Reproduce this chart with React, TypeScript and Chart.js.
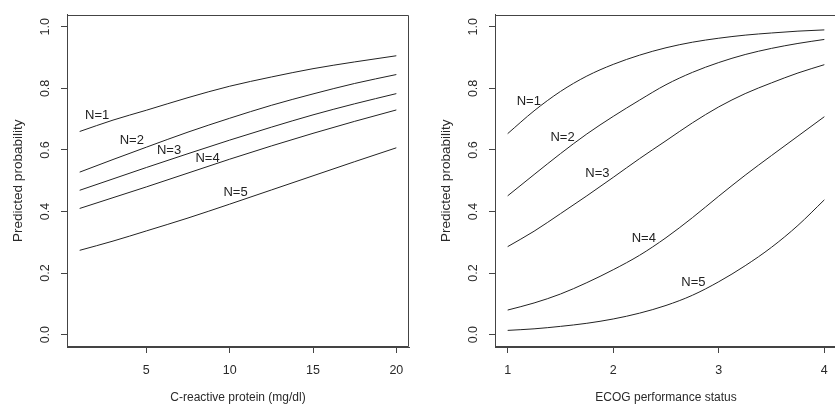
import React, { useEffect, useRef } from "react";
import { Chart, registerables } from "chart.js";

Chart.register(...registerables);

// ---- Data ----
const seriesNames = ["N=1", "N=2", "N=3", "N=4", "N=5"];

// Left panel: C-reactive protein (mg/dl)
const crpX = [1, 3, 5, 7.5, 10, 12.5, 15, 17.5, 20];
const crpN1 = [0.66, 0.697, 0.729, 0.77, 0.807, 0.837, 0.864, 0.886, 0.906];
const crpN2 = [0.528, 0.569, 0.609, 0.658, 0.703, 0.745, 0.782, 0.816, 0.845];
const crpN3 = [0.469, 0.506, 0.543, 0.588, 0.632, 0.674, 0.714, 0.75, 0.783];
const crpN4 = [0.41, 0.445, 0.48, 0.525, 0.57, 0.613, 0.654, 0.693, 0.73];
const crpN5 = [0.274, 0.304, 0.337, 0.379, 0.424, 0.47, 0.516, 0.562, 0.607];
const crpLabelX = [2.05, 4.13, 6.36, 8.67, 10.35];
const crpLabelY = [0.711, 0.632, 0.598, 0.573, 0.461];
const crpTicks = [5, 10, 15, 20];

// Right panel: ECOG performance status
const ecogX = [1, 1.25, 1.5, 1.75, 2, 2.25, 2.5, 2.75, 3, 3.25, 3.5, 3.75, 4];
const ecogN1 = [0.653, 0.727, 0.79, 0.84, 0.878, 0.908, 0.932, 0.95, 0.963, 0.973, 0.98, 0.986, 0.99];
const ecogN2 = [0.451, 0.52, 0.588, 0.652, 0.709, 0.762, 0.812, 0.852, 0.884, 0.91, 0.93, 0.946, 0.959];
const ecogN3 = [0.286, 0.336, 0.393, 0.451, 0.511, 0.572, 0.63, 0.688, 0.74, 0.783, 0.818, 0.85, 0.877];
const ecogN4 = [0.08, 0.103, 0.132, 0.169, 0.211, 0.258, 0.315, 0.38, 0.45, 0.518, 0.582, 0.645, 0.708];
const ecogN5 = [0.014, 0.019, 0.027, 0.037, 0.051, 0.07, 0.095, 0.128, 0.172, 0.224, 0.284, 0.355, 0.438];
const ecogLabelX = [1.2, 1.52, 1.85, 2.29, 2.76];
const ecogLabelY = [0.759, 0.642, 0.523, 0.314, 0.171];
const ecogTicks = [1, 2, 3, 4];

const yTicks = [0, 0.2, 0.4, 0.6, 0.8, 1.0];

const FONT = "'Liberation Sans', Arial, Helvetica, sans-serif";
const LINE = "#222222";
const AXIS = "#444444";
const TEXT = "#2a2a2a";

type PanelCfg = {
  xs: number[];
  series: number[][];
  labelX: number[];
  labelY: number[];
  xTicks: number[];
  xMin: number;
  xMax: number;
  xTitle: string;
  padLeft: number;
  padRight: number;
  width: number;
};

const boxPlugin = {
  id: "rbox",
  afterDraw(chart: any) {
    const { ctx, chartArea } = chart;
    ctx.save();
    ctx.strokeStyle = AXIS;
    ctx.lineWidth = 1;
    const l = Math.round(chartArea.left) + 0.5;
    const t = Math.round(chartArea.top) + 0.5;
    const r = Math.round(chartArea.right) - 0.5;
    const b = Math.round(chartArea.bottom) - 0.5;
    ctx.beginPath();
    ctx.moveTo(l, b);
    ctx.lineTo(l, t);
    ctx.lineTo(r, t);
    ctx.lineTo(r, b);
    ctx.lineTo(l, b);
    ctx.stroke();
    ctx.restore();
  },
};

function makeLabelPlugin(cfg: PanelCfg) {
  return {
    id: "curveLabels",
    afterDatasetsDraw(chart: any) {
      const { ctx } = chart;
      const xs = chart.scales.x;
      const ys = chart.scales.y;
      ctx.save();
      ctx.font = `13px ${FONT}`;
      ctx.fillStyle = LINE;
      ctx.textAlign = "center";
      ctx.textBaseline = "middle";
      seriesNames.forEach((name, i) => {
        ctx.fillText(name, xs.getPixelForValue(cfg.labelX[i]), ys.getPixelForValue(cfg.labelY[i]));
      });
      ctx.restore();
    },
  };
}

function Panel({ cfg }: { cfg: PanelCfg }) {
  const ref = useRef<HTMLCanvasElement | null>(null);
  useEffect(() => {
    if (!ref.current) return;
    const chart = new Chart(ref.current, {
      type: "line",
      data: {
        datasets: cfg.series.map((s, i) => ({
          label: seriesNames[i],
          data: cfg.xs.map((x, j) => ({ x, y: s[j] })),
          borderColor: LINE,
          borderWidth: 1,
          pointRadius: 0,
          fill: false,
          cubicInterpolationMode: "monotone" as const,
        })),
      },
      options: {
        animation: false,
        responsive: false,
        events: [],
        layout: { padding: { left: cfg.padLeft, right: cfg.padRight, top: 8, bottom: 0 } },
        plugins: { legend: { display: false }, tooltip: { enabled: false } },
        scales: {
          x: {
            type: "linear",
            min: cfg.xMin,
            max: cfg.xMax,
            afterBuildTicks: (s: any) => {
              s.ticks = cfg.xTicks.map((v) => ({ value: v }));
            },
            afterFit: (s: any) => {
              s.height = 61;
            },
            grid: { drawOnChartArea: false, drawTicks: true, tickLength: 6, color: AXIS },
            border: { display: true, color: AXIS },
            ticks: {
              color: TEXT,
              font: { family: FONT, size: 12.5 },
              padding: 10,
              maxRotation: 0,
              autoSkip: false,
              callback: (v: any) => String(v),
            },
            title: {
              display: true,
              text: cfg.xTitle,
              color: TEXT,
              font: { family: FONT, size: 12 },
              padding: { top: 0, bottom: 3 },
            },
          },
          y: {
            type: "linear",
            min: -0.04,
            max: 1.04,
            afterBuildTicks: (s: any) => {
              s.ticks = yTicks.map((v) => ({ value: v }));
            },
            afterFit: (s: any) => {
              s.width = 67;
            },
            grid: { drawOnChartArea: false, drawTicks: true, tickLength: 6, color: AXIS },
            border: { display: true, color: AXIS },
            ticks: {
              color: TEXT,
              font: { family: FONT, size: 12.5 },
              padding: 7,
              minRotation: 90,
              maxRotation: 90,
              crossAlign: "center",
              autoSkip: false,
              callback: (v: any) => Number(v).toFixed(1),
            },
            title: {
              display: true,
              text: "Predicted probability",
              color: TEXT,
              font: { family: FONT, size: 13.5 },
              padding: { top: 10, bottom: 0 },
            },
          },
        },
      },
      plugins: [boxPlugin, makeLabelPlugin(cfg)],
    } as any);
    return () => chart.destroy();
  }, [cfg]);
  return <canvas ref={ref} width={cfg.width} height={408} style={{ display: "block" }} />;
}

const leftCfg: PanelCfg = {
  xs: crpX,
  series: [crpN1, crpN2, crpN3, crpN4, crpN5],
  labelX: crpLabelX,
  labelY: crpLabelY,
  xTicks: crpTicks,
  xMin: 0.24,
  xMax: 20.76,
  xTitle: "C-reactive protein (mg/dl)",
  padLeft: 0,
  padRight: 8,
  width: 417,
};

const rightCfg: PanelCfg = {
  xs: ecogX,
  series: [ecogN1, ecogN2, ecogN3, ecogN4, ecogN5],
  labelX: ecogLabelX,
  labelY: ecogLabelY,
  xTicks: ecogTicks,
  xMin: 0.88,
  xMax: 4.12,
  xTitle: "ECOG performance status",
  padLeft: 11,
  padRight: 1,
  width: 421,
};

export default function App() {
  return (
    <div
      style={{
        position: "fixed",
        left: 0,
        top: 0,
        width: 835,
        height: 408,
        overflow: "hidden",
        background: "#ffffff",
      }}
    >
      <div style={{ position: "absolute", left: 0, top: 0 }}>
        <Panel cfg={leftCfg} />
      </div>
      <div style={{ position: "absolute", left: 417, top: 0 }}>
        <Panel cfg={rightCfg} />
      </div>
    </div>
  );
}
